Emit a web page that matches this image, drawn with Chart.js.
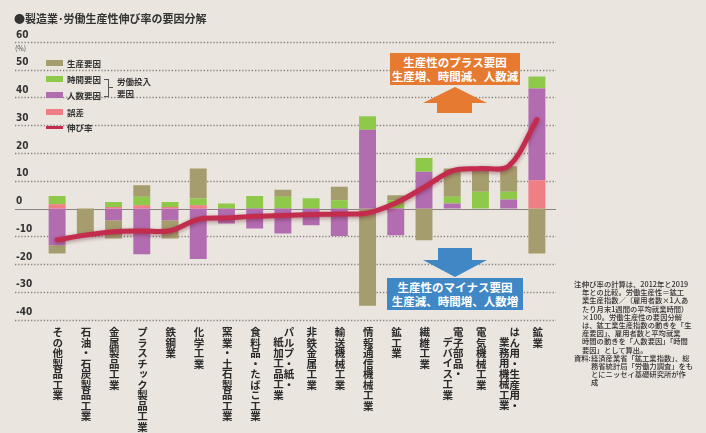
<!DOCTYPE html>
<html lang="ja">
<head>
<meta charset="utf-8">
<script src="https://cdn.jsdelivr.net/npm/chart.js@4.4.1/dist/chart.umd.min.js"></script>
<style>
  html, body { margin: 0; padding: 0; }
  body { width: 706px; height: 433px; background: #eae5df; position: relative; overflow: hidden;
         font-family: "Noto Sans CJK JP", sans-serif; color: #2b2b2b; }
  #chart { position: absolute; left: 0; top: 0; }
  .abs { position: absolute; white-space: nowrap; }
  #title { left: 14px; top: 10px; font-size: 11px; font-weight: 700; color: #333; }
  #unit { left: 15px; top: 43px; font-size: 7px; color: #555; }
  .sw { position: absolute; left: 46px; width: 17px; height: 6px; }
  .lg { position: absolute; left: 67px; font-size: 8.5px; font-weight: 700; line-height: 10px; color: #333; }
  #bracket { position: absolute; left: 104px; top: 79px; width: 4px; height: 16px;
             border: 1px solid #555; border-left: none; }
  #bracketTick { position: absolute; left: 109px; top: 87px; width: 4px; height: 1px; background: #555; }
  #labourText { left: 117px; top: 76px; font-size: 8.5px; font-weight: 700; line-height: 11.5px; color: #333; }
  .box { position: absolute; color: #fff; font-size: 11.5px; font-weight: 700; text-align: center;
         line-height: 14px; padding-top: 2px; box-sizing: border-box; }
  #plusBox { left: 390px; top: 53px; width: 130px; height: 32px; background: #e67a31; }
  #minusBox { left: 387px; top: 278px; width: 136px; height: 32px; background: #3f87c5; }
  #upArrow { position: absolute; left: 423px; top: 87px; width: 64px; height: 26px; background: #e67a31;
             clip-path: polygon(32px 0, 64px 16px, 49px 16px, 49px 26px, 14px 26px, 14px 16px, 0 16px); }
  #downArrow { position: absolute; left: 423px; top: 248px; width: 64px; height: 29px; background: #3f87c5;
             clip-path: polygon(15px 0, 49px 0, 49px 12px, 64px 12px, 32px 29px, 0 12px, 15px 12px); }
  .xl { position: absolute; top: 327px; writing-mode: vertical-rl; font-size: 10.5px; line-height: 10.5px;
        font-weight: 700; color: #2a2a2a; transform: translateX(-50%); white-space: nowrap; }
  .xl .ind { padding-top: 10px; }
  #notes { position: absolute; left: 574px; top: 280px; font-size: 7.3px; line-height: 8.2px; color: #333; font-weight: 500; }
  #notes .row { position: relative; white-space: nowrap; }
  #notes .n1 { padding-left: 8px; }
  #notes .n2 { padding-left: 17px; }
  #notes .tag { position: absolute; left: 0; top: 0; }
</style>
</head>
<body>
<canvas id="chart" width="706" height="433"></canvas>

<div id="title" class="abs">●製造業･労働生産性伸び率の要因分解</div>
<div id="unit" class="abs">(%)</div>

<div class="sw" style="top:60px;background:#a59d6e"></div>
<div class="lg" style="top:58px">生産要因</div>
<div class="sw" style="top:76px;background:#8ec94a"></div>
<div class="lg" style="top:74px">時間要因</div>
<div class="sw" style="top:92px;background:#b26db1"></div>
<div class="lg" style="top:90px">人数要因</div>
<div class="sw" style="top:109px;background:#ef7e85"></div>
<div class="lg" style="top:107px">誤差</div>
<div class="sw" style="top:126px;height:3px;background:#c42c4d"></div>
<div class="lg" style="top:122px">伸び率</div>
<div id="bracket"></div>
<div id="bracketTick"></div>
<div id="labourText" class="abs">労働投入<br>要因</div>

<div id="plusBox" class="box">生産性のプラス要因<br>生産増、時間減、人数減</div>
<div id="upArrow"></div>
<div id="downArrow"></div>
<div id="minusBox" class="box">生産性のマイナス要因<br>生産減、時間増、人数増</div>

<div id="notes">
  <div class="row n1"><span class="tag">注:</span>伸び率の計算は、2012年と2019</div>
  <div class="row n1">年との比較。労働生産性＝鉱工</div>
  <div class="row n1">業生産指数／（雇用者数×1人あ</div>
  <div class="row n1">たり月末1週間の平均就業時間）</div>
  <div class="row n1">×100。労働生産性の要因分解</div>
  <div class="row n1">は、鉱工業生産指数の動きを「生</div>
  <div class="row n1">産要因」、雇用者数と平均就業</div>
  <div class="row n1">時間の動きを「人数要因」「時間</div>
  <div class="row n1">要因」として算出。</div>
  <div class="row n2"><span class="tag">資料:</span>経済産業省「鉱工業指数」、総</div>
  <div class="row n2">務省統計局「労働力調査」をも</div>
  <div class="row n2">とにニッセイ基礎研究所が作</div>
  <div class="row n2">成</div>
</div>

<script>
// industries, left to right ("\n" = next column of the vertical label)
var categories = [
  'その他製品工業', '石油・石炭製品工業', '金属製品工業', 'プラスチック製品工業', '鉄鋼業',
  '化学工業', '窯業・土石製品工業', '食料品・たばこ工業', 'パルプ・紙・\n紙加工品工業', '非鉄金属工業',
  '輸送機械工業', '情報通信機械工業', '鉱工業', '繊維工業', '電子部品・\nデバイス工業',
  '電気機械工業', 'はん用・生産用・\n業務用機械工業', '鉱業'
];

// factor contributions (%)
var production = [-3.0, -10.0, -6.6, 4.2, -6.6, 10.8, 0, 0, 2.6, 0, 4.8, -35.0, 1.8, -11.4, 10.2, 8.4, 9.2, -16.2];
var hours      = [3.0, 0, 1.8, 3.0, 1.8, 2.4, 1.8, 4.5, 4.2, 3.7, 3.0, 4.8, 3.0, 5.0, 2.4, 6.0, 2.8, 4.4];
var headcount  = [-13.2, 0, -4.2, -16.5, -4.2, -18.2, -5.4, -7.2, -9.0, -6.0, -9.9, 28.4, -9.6, 13.2, 1.8, 0, 3.2, 33.0];
var residual   = [1.5, 0, 0.5, 1.2, 0.5, 1.2, 0, 0, 0, 0, 0, 0, 0, 0, 0, 0, 0, 10.2];
// productivity growth rate (%)
var growth     = [-11.3, -9.6, -8.4, -8.1, -8.0, -3.9, -3.4, -2.8, -2.5, -2.2, -2.0, -1.6, 2.0, 7.6, 13.6, 14.4, 15.3, 32.0];

var yTicks = [60, 50, 40, 30, 20, 10, 0, -10, -20, -30, -40];

// dotted grid that runs past the plot area like the print version
var gridPlugin = {
  id: 'dotGrid',
  beforeDatasetsDraw: function(chart) {
    var ctx = chart.ctx;
    var y = chart.scales.y;
    ctx.save();
    yTicks.forEach(function(v) {
      var py = Math.round(y.getPixelForValue(v)) + 0.5;
      ctx.beginPath();
      if (v === 0) {
        ctx.setLineDash([]);
        ctx.strokeStyle = '#8a8580';
        ctx.lineWidth = 1;
      } else {
        ctx.setLineDash([1.3, 1.9]);
        ctx.strokeStyle = '#86827d';
        ctx.lineWidth = 1.3;
      }
      ctx.moveTo(15, py);
      ctx.lineTo(556, py);
      ctx.stroke();
    });
    ctx.restore();
  }
};

// soft shadow under the growth line
var shadowPlugin = {
  id: 'lineShadow',
  beforeDatasetDraw: function(chart, args) {
    if (args.index === 4) {
      chart.ctx.save();
      chart.ctx.shadowColor = 'rgba(90, 10, 30, 0.45)';
      chart.ctx.shadowBlur = 4;
      chart.ctx.shadowOffsetY = 1.5;
    }
  },
  afterDatasetDraw: function(chart, args) {
    if (args.index === 4) chart.ctx.restore();
  }
};

var ctx = document.getElementById('chart').getContext('2d');
var chart = new Chart(ctx, {
  type: 'bar',
  data: {
    labels: categories,
    datasets: [
      { label: '誤差', data: residual, backgroundColor: '#ef7e85', stack: 'f', order: 1 },
      { label: '人数要因', data: headcount, backgroundColor: '#b26db1', stack: 'f', order: 1 },
      { label: '時間要因', data: hours, backgroundColor: '#8ec94a', stack: 'f', order: 1 },
      { label: '生産要因', data: production, backgroundColor: '#a59d6e', stack: 'f', order: 1 },
      { type: 'line', label: '伸び率', data: growth, borderColor: '#c42c4d', borderWidth: 5,
        pointRadius: 0, tension: 0.35, stack: 'rate', order: 0, borderCapStyle: 'round' }
    ]
  },
  options: {
    responsive: false,
    animation: false,
    barPercentage: 0.6,
    categoryPercentage: 1.0,
    layout: { padding: { left: 16, right: 155, top: 42, bottom: 113.5 } },
    plugins: { legend: { display: false }, tooltip: { enabled: false } },
    scales: {
      x: {
        stacked: true,
        grid: { display: false },
        border: { display: false },
        ticks: { display: false },
        afterFit: function(s) { s.height = 0; }
      },
      y: {
        stacked: true,
        min: -40,
        max: 60,
        grid: { display: false },
        border: { display: false },
        afterFit: function(s) { s.width = 27; },
        ticks: {
          stepSize: 10,
          crossAlign: 'far',
          labelOffset: -7,
          padding: 0,
          color: '#333',
          font: { family: '"Liberation Sans Narrow", "DejaVu Sans Condensed", sans-serif', size: 10, weight: 'bold' }
        }
      }
    }
  },
  plugins: [gridPlugin, shadowPlugin]
});

// vertical (tategaki) category labels placed on the x scale
var xs = chart.scales.x;
categories.forEach(function(name, i) {
  var el = document.createElement('div');
  el.className = 'xl';
  el.style.left = xs.getPixelForValue(i) + 'px';
  el.innerHTML = name.split('\n').map(function(part, k) {
    return '<div' + (k > 0 ? ' class="ind"' : '') + '>' + part + '</div>';
  }).join('');
  document.body.appendChild(el);
});
</script>
</body>
</html>
